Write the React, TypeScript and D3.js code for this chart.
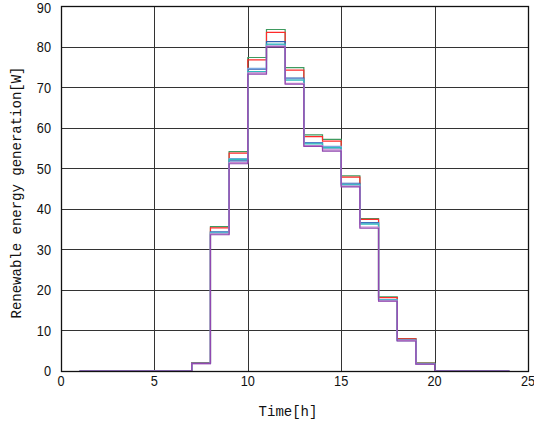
import React from "react";
import * as d3 from "d3";

const hours = [1,2,3,4,5,6,7,8,9,10,11,12,13,14,15,16,17,18,19,20,21,22,23,24];
const seriesGreen = [0,0,0,0,0,0,2.1,35.6,54.1,77.3,84.2,74.8,58.2,57.1,48.1,37.6,18.3,8.0,2.0,0,0,0,0,0];
const seriesRed = [0,0,0,0,0,0,2.0,35.3,53.7,76.7,83.5,74.2,57.8,56.7,47.8,37.4,18.1,7.9,1.9,0,0,0,0,0];
const seriesBlue = [0,0,0,0,0,0,1.9,34.3,51.8,74.4,81.2,72.2,56.3,55.0,46.3,36.6,17.6,7.6,1.8,0,0,0,0,0];
const seriesLightBlue = [0,0,0,0,0,0,1.9,34.2,52.4,74.6,80.4,72.0,56.2,55.4,46.0,36.4,17.6,7.6,1.8,0,0,0,0,0];
const seriesCyan = [0,0,0,0,0,0,1.9,34.0,52.2,73.8,80.6,71.7,56.0,55.1,45.9,36.2,17.5,7.5,1.8,0,0,0,0,0];
const seriesMagenta = [0,0,0,0,0,0,1.8,33.8,51.4,73.5,80.1,70.9,55.6,54.5,45.6,35.5,17.3,7.5,1.7,0,0,0,0,0];
const seriesPurple = [0,0,0,0,0,0,1.8,33.6,51.1,73.2,79.9,70.7,55.4,54.2,45.4,35.2,17.2,7.4,1.7,0,0,0,0,0];

const allSeries = [
  { values: seriesGreen, color: "#3f9a5f" },
  { values: seriesRed, color: "#ff2a2a" },
  { values: seriesBlue, color: "#2f5fb0" },
  { values: seriesLightBlue, color: "#7aa6e0" },
  { values: seriesCyan, color: "#2fbcbc" },
  { values: seriesMagenta, color: "#c888d0" },
  { values: seriesPurple, color: "#9048b0" },
];

const xTicks = [0, 5, 10, 15, 20, 25];
const yTicks = [0, 10, 20, 30, 40, 50, 60, 70, 80, 90];

const W = 534, H = 432;
const L = 61, R = 528, T = 6, B = 371;

export default function App() {
  const x = d3.scaleLinear().domain([0, 25]).range([L, R]);
  const y = d3.scaleLinear().domain([0, 90]).range([B, T]);
  const line = d3.line<number>()
    .x((_, i) => x(hours[i]))
    .y((d) => y(d))
    .curve(d3.curveStepAfter);
  const tickFont = "'Liberation Sans', Arial, sans-serif";
  const monoFont = "'Liberation Mono', 'DejaVu Sans Mono', monospace";
  return (
    <svg width={W} height={H} style={{ position: "absolute", left: 0, top: 0, background: "#fff" }}>
      <rect x={0} y={0} width={W} height={H} fill="#fff" />
      {yTicks.map((t) => (
        <line key={"gy" + t} x1={L} x2={R} y1={Math.round(y(t)) + 0.5} y2={Math.round(y(t)) + 0.5} stroke="#333" strokeWidth={1} />
      ))}
      {xTicks.map((t) => (
        <line key={"gx" + t} x1={Math.round(x(t)) + 0.5} x2={Math.round(x(t)) + 0.5} y1={T} y2={B} stroke="#333" strokeWidth={1} />
      ))}
      {allSeries.map((s, i) => (
        <path key={i} d={line(s.values) || ""} fill="none" stroke={s.color} strokeWidth={1.2} />
      ))}
      <rect x={L + 0.5} y={T + 0.5} width={R - L} height={B - T} fill="none" stroke="#111" strokeWidth={1.3} />
      {yTicks.map((t) => (
        <text key={"ty" + t} x={51} y={Math.max(y(t), 7.5)} dy="0.36em" textAnchor="end" fontFamily={tickFont} fontSize={15} transform={`translate(51,0) scale(0.85,1) translate(-51,0)`} fill="#111">{t}</text>
      ))}
      {xTicks.map((t) => (
        <text key={"tx" + t} x={x(t)} y={386} textAnchor="middle" fontFamily={tickFont} fontSize={15} transform={`translate(${x(t)},0) scale(0.85,1) translate(${-x(t)},0)`} fill="#111">{t}</text>
      ))}
      <text x={288} y={416} textAnchor="middle" fontFamily={monoFont} fontSize={14} fill="#111">Time[h]</text>
      <text transform={`translate(21,${(T + B) / 2 + 4}) rotate(-90)`} textAnchor="middle" fontFamily={monoFont} fontSize={14} fill="#111">Renewable energy generation[W]</text>
    </svg>
  );
}
